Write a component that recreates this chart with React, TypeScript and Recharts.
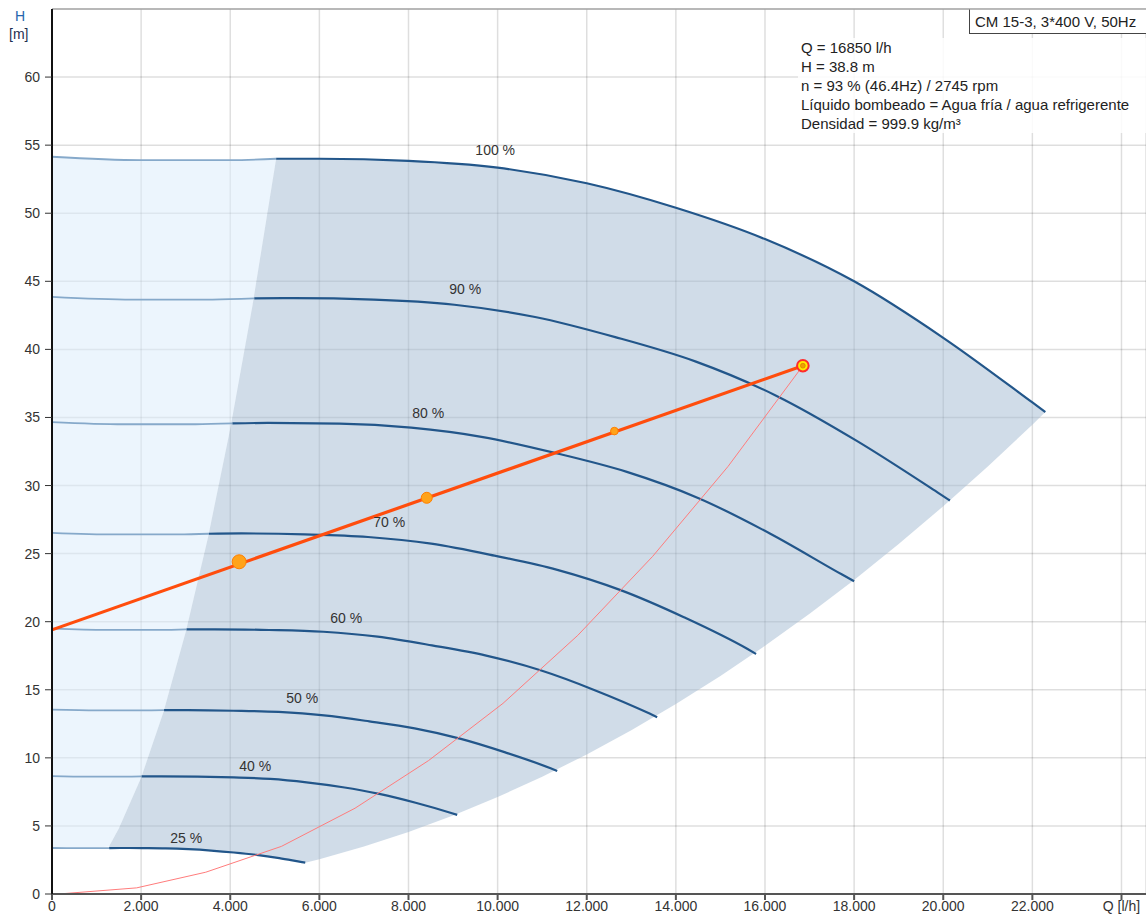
import React from "react";
import { ComposedChart, Line, Area, Scatter, XAxis, YAxis, CartesianGrid, ReferenceLine } from "recharts";

const FONT = '"Liberation Sans", Arial, sans-serif';

// axis ticks
const xTicks = [0, 2000, 4000, 6000, 8000, 10000, 12000, 14000, 16000, 18000, 20000, 22000, 24000];
const xTickLabels = ["0", "2.000", "4.000", "6.000", "8.000", "10.000", "12.000", "14.000", "16.000", "18.000", "20.000", "22.000", "Q [l/h]"];
const yTicks = [0, 5, 10, 15, 20, 25, 30, 35, 40, 45, 50, 55, 60];

// pump curves (Q l/h, H m) per speed
const q100 = [0, 2000, 4000, 5030, 6000, 8000, 10000, 12000, 14000, 16000, 18000, 20000, 22000, 22290];
const h100 = [54.15, 53.9, 53.9, 54.0, 54.0, 53.85, 53.35, 52.2, 50.4, 48.1, 45.0, 40.85, 36.1, 35.4];
const q90 = [0, 1800, 3600, 4540, 5420, 7220, 9030, 10840, 12640, 14450, 16250, 18060, 19870, 20150];
const h90 = [43.86, 43.66, 43.66, 43.74, 43.76, 43.66, 43.28, 42.38, 40.9, 39.1, 36.6, 33.28, 29.5, 28.9];
const q80 = [0, 1610, 3220, 4050, 4840, 6450, 8060, 9670, 11280, 12900, 14510, 16120, 17730, 18000];
const h80 = [34.66, 34.5, 34.5, 34.56, 34.6, 34.55, 34.25, 33.56, 32.4, 31.0, 29.07, 26.46, 23.46, 22.97];
const q70 = [0, 1420, 2840, 3520, 4250, 5670, 7090, 8510, 9930, 11340, 12760, 14180, 15600, 15800];
const h70 = [26.53, 26.41, 26.41, 26.46, 26.48, 26.41, 26.22, 25.73, 24.85, 23.81, 22.32, 20.33, 18.01, 17.63];
const q60 = [0, 1218, 2436, 3020, 3654, 4872, 6090, 7308, 8526, 9744, 10962, 12180, 13398, 13580];
const h60 = [19.49, 19.4, 19.4, 19.44, 19.44, 19.39, 19.26, 18.9, 18.26, 17.51, 16.43, 14.97, 13.27, 12.99];
const q50 = [0, 1017, 2034, 2515, 3052, 4069, 5086, 6103, 7120, 8138, 9155, 10172, 11189, 11337];
const h50 = [13.54, 13.48, 13.48, 13.5, 13.5, 13.46, 13.37, 13.12, 12.68, 12.16, 11.41, 10.4, 9.23, 9.03];
const q40 = [0, 816, 1632, 2012, 2448, 3264, 4080, 4896, 5712, 6528, 7344, 8160, 8976, 9093];
const h40 = [8.66, 8.62, 8.62, 8.64, 8.64, 8.62, 8.56, 8.45, 8.2, 7.84, 7.35, 6.7, 5.93, 5.81];
const q25 = [0, 510, 1020, 1283, 1530, 2040, 2550, 3060, 3570, 4080, 4590, 5100, 5610, 5683];
const h25 = [3.38, 3.37, 3.37, 3.37, 3.38, 3.37, 3.35, 3.29, 3.19, 3.05, 2.87, 2.63, 2.34, 2.3];
// Q where each curve enters the operating range
const edgeQ = [5030, 4540, 4050, 3520, 3020, 2515, 2012, 1283];

// curve labels
const labelText = ["100 %", "90 %", "80 %", "70 %", "60 %", "50 %", "40 %", "25 %"];
const labelQ = [9946, 9274, 8443, 7568, 6603, 5616, 4562, 3013];
const labelH = [54.64, 44.45, 35.36, 27.3, 20.26, 14.4, 9.41, 4.13];

// operating range (grey) and low-flow zone (light blue)
const rangeQ = [1283, 1500, 2000, 2500, 3000, 3500, 4000, 4500, 5030, 5683, 6000, 7000, 8000, 9000, 10000, 11000, 12000, 13000, 14000, 15000, 16000, 17000, 18000, 19000, 20000, 21000, 22000, 22290];
const rangeLow = [3.37, 3.38, 3.37, 3.35, 3.3, 3.2, 3.06, 2.9, 2.66, 2.3, 2.56, 3.49, 4.56, 5.77, 7.12, 8.62, 10.25, 12.03, 13.96, 16.02, 18.23, 20.58, 23.07, 25.7, 28.48, 31.4, 34.46, 35.4];
const rangeHigh = [3.5, 4.81, 8.54, 13.35, 19.22, 26.17, 34.18, 43.25, 54.0, 54.0, 54.0, 53.95, 53.85, 53.65, 53.35, 52.9, 52.2, 51.4, 50.4, 49.35, 48.1, 46.6, 45.0, 43.0, 40.85, 38.6, 36.1, 35.4];
const lowQ = [0, 1000, 1283, 1500, 2000, 2500, 3000, 3500, 4000, 4500, 5030];
const lowLow = [3.38, 3.37, 3.5, 4.81, 8.54, 13.35, 19.22, 26.17, 34.18, 43.25, 54.0];
const lowHigh = [54.15, 53.95, 53.93, 53.92, 53.9, 53.9, 53.9, 53.9, 53.9, 53.92, 54.0];

// control curve, system curve, markers
const ctrlQ = [0, 16850];
const ctrlH = [19.4, 38.8];
const sysQ = [150, 1900, 3450, 5150, 6800, 8450, 10120, 11800, 13480, 15170, 16850];
const sysH = [0, 0.45, 1.6, 3.5, 6.3, 9.8, 14.0, 19.0, 24.8, 31.4, 38.8];
const markQ = [4200, 8410, 12620];
const markH = [24.4, 29.1, 34.0];
const dutyQ = [16850];
const dutyH = [38.8];

const infoLines = [
  "Q = 16850 l/h",
  "H = 38.8 m",
  "n = 93 % (46.4Hz) / 2745 rpm",
  "Líquido bombeado = Agua fría / agua refrigerente",
  "Densidad = 999.9 kg/m³",
];

const pts = (q: number[], h: number[]) => q.map((v, i) => ({ q: v, h: h[i] }));
const rng = (q: number[], lo: number[], hi: number[]) => q.map((v, i) => ({ q: v, range: [lo[i], hi[i]] }));

const curves = [
  [q100, h100], [q90, h90], [q80, h80], [q70, h70], [q60, h60], [q50, h50], [q40, h40], [q25, h25],
].map(([q, h], i) => {
  const all = pts(q, h);
  return { light: all.filter((p) => p.q <= edgeQ[i]), dark: all.filter((p) => p.q >= edgeQ[i]) };
});

const labels = labelText.map((t, i) => ({ q: labelQ[i], h: labelH[i], text: t }));
const markR = [7, 5.5, 3.8];

export default function App() {
  return (
    <div style={{ position: "relative", width: 1146, height: 917, fontFamily: FONT }}>
      <style>{"body{margin:0}"}</style>
      <ComposedChart width={1146} height={917} margin={{ top: 9, right: 0, bottom: 0, left: 0 }}>
        <CartesianGrid stroke="rgba(0,0,0,0.13)" strokeWidth={1.5} />
        <XAxis type="number" dataKey="q" domain={[0, 24550]} ticks={xTicks} interval={0} allowDataOverflow
          tickFormatter={(v) => xTickLabels[xTicks.indexOf(v)]} height={23} tickSize={6} tickMargin={1}
          axisLine={{ stroke: "#555", strokeWidth: 2 }} tickLine={{ stroke: "#555", strokeWidth: 2 }}
          tick={{ fill: "#333", fontSize: 14, fontFamily: FONT }} />
        <YAxis type="number" domain={[0, 65]} ticks={yTicks} interval={0} allowDataOverflow width={52}
          tickSize={7} tickMargin={5} axisLine={{ stroke: "#111", strokeWidth: 2 }} tickLine={{ stroke: "#333" }}
          tick={{ fill: "#333", fontSize: 14, fontFamily: FONT }} />
        {/* translucent fills so the grid shows through */}
        <Area data={rng(lowQ, lowLow, lowHigh)} dataKey="range" type="linear" fill="#ddedfb" fillOpacity={0.55}
          stroke="none" dot={false} activeDot={false} isAnimationActive={false} />
        <Area data={rng(rangeQ, rangeLow, rangeHigh)} dataKey="range" type="linear" fill="#a1bad2" fillOpacity={0.5}
          stroke="none" dot={false} activeDot={false} isAnimationActive={false} />
        <ReferenceLine y={65} stroke="#a8a8a8" strokeWidth={1.5} />
        {curves.map((c, i) => (
          <Line key={"l" + i} data={c.light} dataKey="h" type="monotone" stroke="#86a9ca" strokeWidth={1.8}
            dot={false} activeDot={false} isAnimationActive={false} />
        ))}
        {curves.map((c, i) => (
          <Line key={"d" + i} data={c.dark} dataKey="h" type="monotone" stroke="#22568a" strokeWidth={2.2}
            dot={false} activeDot={false} isAnimationActive={false} />
        ))}
        <Line data={pts(sysQ, sysH)} dataKey="h" type="linear" stroke="#ff7c7c" strokeWidth={1}
          dot={false} activeDot={false} isAnimationActive={false} />
        <Line data={pts(ctrlQ, ctrlH)} dataKey="h" type="linear" stroke="#ff4d0d" strokeWidth={3.2}
          dot={false} activeDot={false} isAnimationActive={false} />
        <Scatter data={pts(markQ, markH)} dataKey="h" isAnimationActive={false}
          shape={(p: any) => (
            <circle cx={p.cx} cy={p.cy} r={markR[markQ.indexOf(p.payload.q)] ?? 4} fill="#ffa31a" stroke="#ff7f00" strokeWidth={1} />
          )} />
        <Scatter data={pts(dutyQ, dutyH)} dataKey="h" isAnimationActive={false}
          shape={(p: any) => (
            <g>
              <circle cx={p.cx} cy={p.cy} r={5.8} fill="#ffea00" stroke="#ff2b2b" strokeWidth={2} />
              <circle cx={p.cx} cy={p.cy} r={2.4} fill="#f0a000" stroke="#d88000" strokeWidth={0.8} />
            </g>
          )} />
        <Scatter data={labels} dataKey="h" isAnimationActive={false}
          shape={(p: any) => (
            <text x={p.cx} y={p.cy} textAnchor="middle" dominantBaseline="central" fontSize={14}
              fontFamily={FONT} fill="#333">{p.payload.text}</text>
          )} />
      </ComposedChart>

      <div style={{ position: "absolute", left: 15, top: 7, fontSize: 14, color: "#2565ae", lineHeight: "18px" }}>H</div>
      <div style={{ position: "absolute", left: 9, top: 25, fontSize: 14, color: "#1e2e50", lineHeight: "18px" }}>[m]</div>

      <div style={{ position: "absolute", left: 798, top: 38, width: 348, height: 95, background: "rgba(255,255,255,0.85)" }}>
        {infoLines.map((t, i) => (
          <div key={i} style={{ position: "absolute", left: 3, top: 0 + i * 19, fontSize: 15, lineHeight: "19px", color: "#222", whiteSpace: "nowrap" }}>{t}</div>
        ))}
      </div>
      <div style={{ position: "absolute", left: 969, top: 9, width: 190, height: 25, background: "#fff",
        borderLeft: "1px solid #444", borderBottom: "1px solid #444", borderTop: "1px solid #bbb",
        fontSize: 15, lineHeight: "23px", color: "#222", paddingLeft: 5, boxSizing: "border-box" }}>
        CM 15-3, 3*400 V, 50Hz
      </div>
    </div>
  );
}
